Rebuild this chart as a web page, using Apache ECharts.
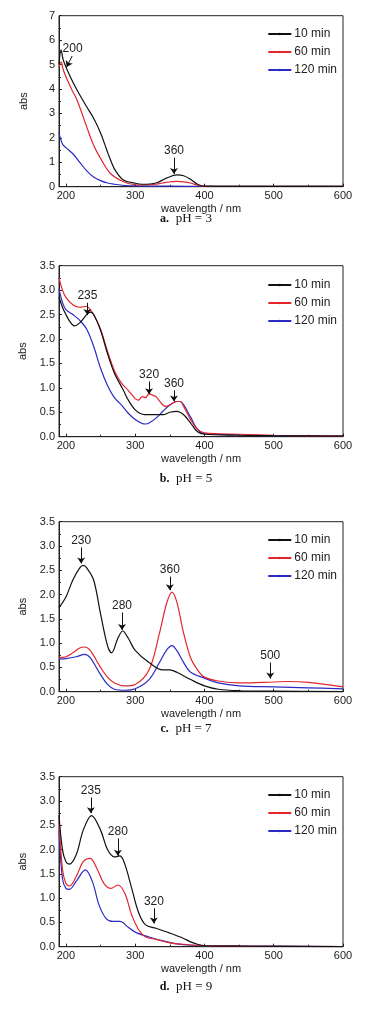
<!DOCTYPE html>
<html><head><meta charset="utf-8">
<script src="https://cdn.jsdelivr.net/npm/echarts@6/dist/echarts.min.js"></script>
<style>html,body{margin:0;padding:0;background:#fff}#c{width:372px;height:1014px}</style>
</head><body><div id="c"></div>
<script>
const seriesNames = ['10 min', '60 min', '120 min'];
const colors = ['#111111', '#e3262b', '#2a2ac4'];
const captionLetters = ['a.', 'b.', 'c.', 'd.'];
const captionPH = ['pH = 3', 'pH = 5', 'pH = 7', 'pH = 9'];
const yMax = [7, 3.5, 3.5, 3.5];
const yStep = [1, 0.5, 0.5, 0.5];
const xTickLabels = [200, 300, 400, 500, 600];

// ---- panel a: pH = 3 ----
const a10_x = [190, 193, 196, 200, 208, 216, 230, 240, 250, 259, 265, 271, 283, 300, 310, 330, 345, 360, 370, 380, 390, 400, 450, 500, 600];
const a10_y = [5.0, 5.6, 5.2, 4.9, 4.4, 3.96, 3.27, 2.8, 2.2, 1.5, 1.05, 0.68, 0.27, 0.14, 0.1, 0.15, 0.35, 0.48, 0.45, 0.3, 0.1, 0.02, 0.01, 0.01, 0.01];
const a60_x = [190, 193, 196, 200, 208, 216, 230, 240, 250, 264, 283, 300, 315, 330, 345, 360, 370, 380, 390, 400, 450, 600];
const a60_y = [4.9, 5.1, 4.8, 4.5, 4.0, 3.55, 2.45, 1.7, 1.16, 0.55, 0.2, 0.08, 0.07, 0.1, 0.18, 0.22, 0.2, 0.15, 0.06, 0.01, 0.01, 0.01];
const a120_x = [190, 195, 200, 210, 220, 230, 240, 250, 260, 270, 285, 300, 350, 400, 600];
const a120_y = [2.2, 1.75, 1.6, 1.35, 1.0, 0.65, 0.4, 0.25, 0.15, 0.1, 0.05, 0.03, 0.02, 0.01, 0.01];

// ---- panel b: pH = 5 ----
const b10_x = [190, 195, 200, 206, 212, 220, 230, 235, 240, 250, 260, 270, 283, 290, 300, 310, 320, 330, 340, 350, 360, 370, 380, 390, 400, 450, 500, 600];
const b10_y = [2.86, 2.65, 2.5, 2.35, 2.27, 2.33, 2.5, 2.55, 2.5, 2.18, 1.7, 1.3, 0.95, 0.75, 0.55, 0.46, 0.45, 0.45, 0.45, 0.5, 0.52, 0.45, 0.28, 0.1, 0.05, 0.03, 0.02, 0.01];
const b60_x = [190, 195, 200, 210, 220, 230, 235, 240, 250, 260, 270, 280, 290, 300, 305, 310, 315, 320, 325, 330, 340, 345, 350, 360, 365, 370, 380, 390, 400, 450, 500, 600];
const b60_y = [3.25, 3.0, 2.85, 2.7, 2.65, 2.67, 2.6, 2.5, 2.2, 1.75, 1.35, 1.1, 0.95, 0.78, 0.75, 0.82, 0.8, 0.88, 0.85, 0.82, 0.65, 0.62, 0.65, 0.72, 0.72, 0.62, 0.35, 0.15, 0.08, 0.05, 0.03, 0.01];
const b120_x = [190, 195, 200, 210, 220, 230, 240, 250, 260, 270, 280, 290, 300, 310, 315, 320, 330, 340, 350, 360, 365, 370, 380, 390, 400, 450, 500, 600];
const b120_y = [3.02, 2.75, 2.6, 2.5, 2.38, 2.2, 1.85, 1.4, 1.05, 0.8, 0.65, 0.48, 0.35, 0.27, 0.26, 0.28, 0.38, 0.52, 0.65, 0.72, 0.72, 0.65, 0.4, 0.15, 0.06, 0.04, 0.02, 0.01];

// ---- panel c: pH = 7 ----
const c10_x = [190, 200, 210, 220, 225, 230, 240, 250, 260, 266, 275, 282, 290, 300, 320, 340, 350, 360, 380, 400, 420, 450, 500, 600];
const c10_y = [1.73, 1.95, 2.3, 2.55, 2.6, 2.55, 2.3, 1.6, 0.95, 0.8, 1.1, 1.25, 1.1, 0.85, 0.6, 0.45, 0.45, 0.4, 0.25, 0.12, 0.05, 0.02, 0.01, 0.0];
const c60_x = [190, 200, 210, 220, 227, 235, 250, 260, 270, 285, 300, 320, 335, 345, 353, 360, 370, 380, 390, 400, 420, 450, 500, 520, 550, 600];
const c60_y = [0.7, 0.72, 0.8, 0.9, 0.92, 0.85, 0.5, 0.3, 0.18, 0.12, 0.15, 0.45, 1.2, 1.8, 2.05, 1.85, 1.2, 0.7, 0.45, 0.3, 0.22, 0.18, 0.2, 0.21, 0.19, 0.1];
const c120_x = [190, 200, 215, 227, 235, 250, 260, 270, 285, 300, 320, 335, 345, 353, 360, 370, 380, 400, 420, 450, 500, 550, 600];
const c120_y = [0.67, 0.68, 0.72, 0.77, 0.7, 0.35, 0.15, 0.05, 0.03, 0.06, 0.25, 0.6, 0.85, 0.95, 0.85, 0.6, 0.4, 0.28, 0.18, 0.12, 0.1, 0.08, 0.06];

// ---- panel d: pH = 9 ----
const d10_x = [190, 195, 200, 205, 215, 225, 237, 250, 260, 270, 278, 285, 295, 305, 315, 330, 350, 370, 380, 390, 400, 450, 600];
const d10_y = [2.7, 2.0, 1.75, 1.7, 1.9, 2.4, 2.7, 2.4, 2.0, 1.85, 1.87, 1.7, 1.2, 0.7, 0.45, 0.38, 0.28, 0.17, 0.1, 0.05, 0.02, 0.01, 0.0];
const d60_x = [190, 195, 200, 205, 215, 225, 235, 245, 255, 265, 275, 285, 295, 305, 315, 330, 350, 370, 400, 450, 600];
const d60_y = [2.6, 1.6, 1.3, 1.25, 1.45, 1.75, 1.82, 1.6, 1.3, 1.2, 1.27, 1.1, 0.65, 0.35, 0.2, 0.15, 0.08, 0.05, 0.02, 0.01, 0.0];
const d120_x = [190, 195, 200, 205, 215, 228, 238, 248, 258, 268, 278, 290, 300, 320, 340, 360, 380, 400, 450, 500, 600];
const d120_y = [2.4, 1.4, 1.2, 1.18, 1.35, 1.58, 1.35, 0.85, 0.58, 0.52, 0.52, 0.4, 0.3, 0.2, 0.12, 0.06, 0.03, 0.02, 0.02, 0.01, 0.0];

// annotations: label, wavelength at arrow tail, value at tail, wavelength at head, value at head
const annA = [['200', 209, 5.35, 201, 4.9], ['360', 356, 1.19, 356, 0.52]];
const annB = [['235', 231, 2.74, 231, 2.49], ['320', 320, 1.13, 320, 0.87], ['360', 356, 0.95, 356, 0.72]];
const annC = [['230', 222, 2.97, 222, 2.64], ['280', 281, 1.63, 281, 1.27], ['360', 350, 2.37, 350, 2.09], ['500', 495, 0.6, 495, 0.27]];
const annD = [['235', 236, 3.07, 236, 2.75], ['280', 275, 2.23, 275, 1.87], ['320', 327, 0.79, 327, 0.48]];

const panels = [
  {x: [a10_x, a60_x, a120_x], y: [a10_y, a60_y, a120_y], ann: annA},
  {x: [b10_x, b60_x, b120_x], y: [b10_y, b60_y, b120_y], ann: annB},
  {x: [c10_x, c60_x, c120_x], y: [c10_y, c60_y, c120_y], ann: annC},
  {x: [d10_x, d60_x, d120_x], y: [d10_y, d60_y, d120_y], ann: annD}
];

const FONT = 'Liberation Sans, Arial, sans-serif';
const gridTop = [15.7, 265.7, 521.7, 776.7];
const gridH = [171, 171, 170, 170];
const legendTop = [23, 274, 529, 784];
const captionY = [220, 480, 730, 988];

const grid = [], xAxis = [], yAxis = [], series = [], legend = [], graphic = [];
panels.forEach((p, i) => {
  grid.push({left: 59, right: 29, top: gridTop[i], height: gridH[i], show: true, borderColor: '#222', borderWidth: 1});
  xAxis.push({
    gridIndex: i, type: 'value', min: 190, max: 600,
    name: 'wavelength / nm', nameLocation: 'middle', nameGap: 17,
    nameTextStyle: {fontFamily: FONT, fontSize: 11, color: '#222'},
    axisLine: {show: true, lineStyle: {color: '#222'}},
    axisTick: {show: true, inside: true, length: 3, lineStyle: {color: '#222'}},
    minorTick: {show: true, splitNumber: 2, length: 2, lineStyle: {color: '#222'}},
    splitLine: {show: false},
    axisLabel: {fontFamily: FONT, fontSize: 11, color: '#222', margin: 4,
      formatter: v => (xTickLabels.indexOf(v) >= 0 ? String(v) : '')}
  });
  yAxis.push({
    gridIndex: i, type: 'value', min: 0, max: yMax[i], interval: yStep[i],
    name: 'abs', nameLocation: 'middle', nameGap: 30,
    nameTextStyle: {fontFamily: FONT, fontSize: 11, color: '#222'},
    axisLine: {show: true, lineStyle: {color: '#222'}},
    axisTick: {show: true, inside: true, length: 3, lineStyle: {color: '#222'}},
    minorTick: {show: true, splitNumber: 2, length: 2, lineStyle: {color: '#222'}},
    splitLine: {show: false},
    axisLabel: {fontFamily: FONT, fontSize: 11, color: '#222', margin: 4,
      formatter: v => (yStep[i] < 1 ? v.toFixed(1) : String(v))}
  });
  seriesNames.forEach((n, k) => {
    const s = {
      name: n, type: 'line', xAxisIndex: i, yAxisIndex: i,
      data: p.x[k].map((xv, j) => [xv, p.y[k][j]]),
      smooth: 0.35, showSymbol: false, symbol: 'circle', symbolSize: 2,
      lineStyle: {width: 1.2, color: colors[k]}, itemStyle: {color: colors[k]},
      z: 3 - k + 2
    };
    if (k === 0) {
      s.markLine = {
        silent: true, symbol: ['none', 'arrow'], symbolSize: 6, animation: false,
        lineStyle: {color: '#111', width: 1, type: 'solid'},
        itemStyle: {color: '#111'},
        label: {show: true, position: 'start', distance: 1, fontFamily: FONT, fontSize: 12, color: '#222',
          formatter: prm => prm.data.txt || ''},
        data: p.ann.map(a => [{coord: [a[1], a[2]], txt: a[0]}, {coord: [a[3], a[4]]}])
      };
    }
    series.push(s);
  });
  legend.push({
    data: seriesNames, right: 30, top: legendTop[i], orient: 'vertical',
    itemWidth: 23, itemHeight: 3, itemGap: 6,
    textStyle: {fontFamily: FONT, fontSize: 12, color: '#222', padding: [0, 0, 0, -2]},
    selectedMode: false
  });
  graphic.push({
    type: 'text', left: 'center', top: captionY[i] - 8,
    style: {
      text: '{b|' + captionLetters[i] + '}  {n|' + captionPH[i] + '}',
      rich: {
        b: {fontFamily: 'Liberation Serif, serif', fontWeight: 'bold', fontSize: 12, fill: '#111'},
        n: {fontFamily: 'Liberation Serif, serif', fontSize: 13, fill: '#111'}
      }
    }
  });
});

const chart = echarts.init(document.getElementById('c'), null, {renderer: 'canvas'});
chart.setOption({
  animation: false, backgroundColor: '#fff',
  grid, xAxis, yAxis, series, legend, graphic
});
</script></body></html>
